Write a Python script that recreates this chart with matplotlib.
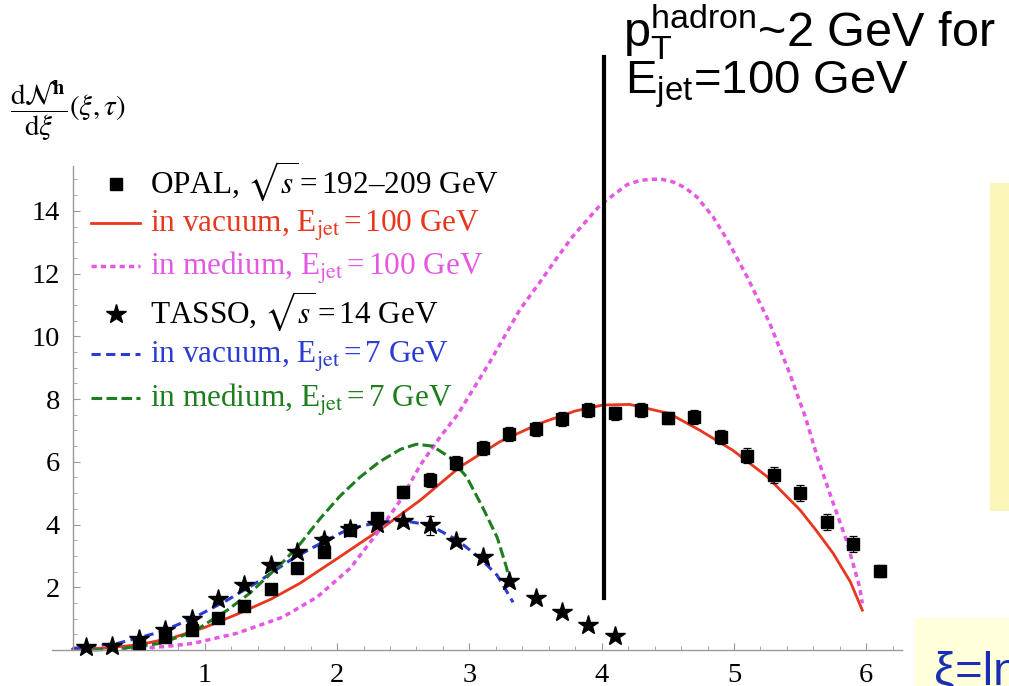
import matplotlib
matplotlib.use('Agg')
import matplotlib.pyplot as plt
from matplotlib.lines import Line2D
from matplotlib.patches import Rectangle
from matplotlib.ticker import FixedLocator, MultipleLocator

# ---------------- data ----------------
opal_x = [0.5, 0.7, 0.9, 1.1, 1.3, 1.5, 1.7, 1.9, 2.1, 2.3, 2.5, 2.7, 2.9, 3.1, 3.3,
          3.5, 3.7, 3.9, 4.1, 4.3, 4.5, 4.7, 4.9, 5.1, 5.3, 5.5, 5.7, 5.9, 6.1]
opal_y = [0.21, 0.42, 0.63, 1.02, 1.41, 1.95, 2.6, 3.14, 3.81, 4.2, 5.04, 5.42, 5.96, 6.44, 6.88,
          7.05, 7.36, 7.65, 7.54, 7.65, 7.4, 7.44, 6.8, 6.2, 5.57, 5.0, 4.07, 3.37, 2.52]
opal_err = [0.05, 0.05, 0.06, 0.08, 0.1, 0.1, 0.12, 0.15, 0.15, 0.18, 0.2, 0.22, 0.22, 0.22, 0.22,
            0.22, 0.22, 0.22, 0.22, 0.22, 0.2, 0.22, 0.22, 0.25, 0.25, 0.25, 0.25, 0.25, 0.2]

tasso_x = [0.1, 0.3, 0.5, 0.7, 0.9, 1.1, 1.3, 1.5, 1.7, 1.9, 2.1, 2.3, 2.5, 2.7, 2.9,
           3.1, 3.3, 3.5, 3.7, 3.9, 4.1]
tasso_y = [0.1, 0.13, 0.34, 0.64, 0.99, 1.64, 2.06, 2.72, 3.11, 3.52, 3.85, 4.03, 4.1, 3.97, 3.46,
           2.98, 2.21, 1.67, 1.22, 0.8, 0.45]
tasso_err = [0.02, 0.02, 0.03, 0.04, 0.05, 0.06, 0.06, 0.08, 0.08, 0.1, 0.1, 0.1, 0.12, 0.3, 0.1,
             0.08, 0.08, 0.06, 0.05, 0.04, 0.03]

vac100_x = [0.0, 0.25, 0.5, 0.75, 1.0, 1.25, 1.5, 1.72, 2.02, 2.32, 2.63, 2.93, 3.23, 3.53,
            3.8, 4.01, 4.21, 4.51, 4.74, 4.99, 5.25, 5.5, 5.62, 5.75, 5.88, 5.97]
vac100_y = [0.02, 0.06, 0.17, 0.38, 0.72, 1.15, 1.62, 2.13, 2.97, 3.82, 4.78, 5.84, 6.64, 7.22,
            7.62, 7.81, 7.83, 7.54, 7.01, 6.37, 5.53, 4.46, 3.82, 3.08, 2.17, 1.27]

med100_x = [0.3, 0.49, 0.7, 0.91, 1.24, 1.59, 1.85, 2.1, 2.32, 2.48, 2.63, 2.78, 2.91, 3.15,
            3.38, 3.53, 3.66, 3.78, 3.99, 4.19, 4.29, 4.38, 4.46, 4.54, 4.63, 4.72, 4.84, 4.95,
            5.1, 5.27, 5.42, 5.54, 5.63, 5.75, 5.85, 5.95, 5.97]
med100_y = [0.0, 0.05, 0.11, 0.21, 0.53, 1.05, 1.69, 2.61, 3.82, 4.78, 5.9, 6.8, 7.5, 9.15,
            10.84, 11.71, 12.49, 13.18, 14.19, 14.83, 14.97, 15.01, 15.0, 14.92, 14.74, 14.44,
            13.82, 13.07, 11.89, 10.42, 8.83, 7.42, 6.15, 4.68, 3.5, 2.0, 1.49]

vac7_x = [0.0, 0.34, 0.66, 0.91, 1.17, 1.42, 1.67, 1.92, 2.1, 2.32, 2.48, 2.7, 2.91, 3.08,
          3.21, 3.29, 3.33]
vac7_y = [0.05, 0.21, 0.57, 1.01, 1.59, 2.22, 2.93, 3.5, 3.88, 4.07, 4.14, 3.98, 3.5, 2.93,
          2.38, 1.81, 1.52]

med7_x = [0.15, 0.34, 0.66, 0.91, 1.17, 1.34, 1.59, 1.72, 1.87, 2.02, 2.17, 2.32, 2.48, 2.6,
          2.72, 2.85, 2.98, 3.1, 3.21, 3.28, 3.32]
med7_y = [0.0, 0.03, 0.21, 0.57, 1.27, 1.81, 2.8, 3.38, 4.18, 4.9, 5.5, 6.0, 6.4, 6.56,
          6.5, 6.15, 5.51, 4.55, 3.59, 2.64, 1.9]

x_ticks = [1, 2, 3, 4, 5, 6]
y_ticks = [2, 4, 6, 8, 10, 12, 14]
cut_xi = 4.02

legend_labels = [
    r'OPAL, $\sqrt{s}\,$=$\,$192–209 GeV',
    r'in vacuum, E$_{\rm jet}\,$=$\,$100 GeV',
    r'in medium, E$_{\rm jet}\,$=$\,$100 GeV',
    r'TASSO, $\sqrt{s}\,$=$\,$14 GeV',
    r'in vacuum, E$_{\rm jet}\,$=$\,$7 GeV',
    r'in medium, E$_{\rm jet}\,$=$\,$7 GeV',
]

# ---------------- style ----------------
plt.rcParams['font.family'] = ['Liberation Serif', 'DejaVu Serif']
plt.rcParams['mathtext.fontset'] = 'custom'
plt.rcParams['mathtext.rm'] = 'Liberation Sans'
plt.rcParams['mathtext.it'] = 'Liberation Sans:italic'
plt.rcParams['mathtext.bf'] = 'Liberation Sans:bold'

RED = '#e8361f'
MAG = '#e458e4'
BLUE = '#2a3cd2'
GREEN = '#1e7d1e'
AX_C = '#9a9a9a'

W, H = 1009, 686
fig = plt.figure(figsize=(W / 100, H / 100), dpi=100)


def fx(px):
    return px / W


def fy(py):
    return 1 - py / H


ax = fig.add_axes([fx(52), fy(650), (902 - 52) / W, (650 - 166) / H])
ax.patch.set_visible(False)
ax.set_xlim(-0.155, 6.27)
ax.set_ylim(0, 15.43)
for s in ['top', 'right']:
    ax.spines[s].set_visible(False)
ax.spines['left'].set_position(('data', 0))
for s in ['left', 'bottom']:
    ax.spines[s].set_color(AX_C)
    ax.spines[s].set_linewidth(1.0)

ax.xaxis.set_major_locator(FixedLocator(x_ticks))
ax.xaxis.set_minor_locator(MultipleLocator(0.2))
ax.yaxis.set_major_locator(FixedLocator(y_ticks))
ax.yaxis.set_minor_locator(MultipleLocator(0.5))
ax.tick_params(which='both', direction='in', color=AX_C, labelsize=20.5)
ax.tick_params(which='major', length=5, width=0.8)
ax.tick_params(which='minor', length=3, width=0.6)
ax.tick_params(axis='y', pad=9)
ax.tick_params(axis='x', pad=9)

# curves
ls_mag = (0, (1.5, 1.2))
ls_blue = (0, (3.0, 1.8))
ls_green = (0, (3.5, 1.4))
ax.plot(vac100_x, vac100_y, color=RED, lw=2.0, clip_on=False, zorder=2)
ax.plot(med100_x, med100_y, color=MAG, lw=2.5, ls=ls_mag, clip_on=False, zorder=2)
ax.plot(vac7_x, vac7_y, color=BLUE, lw=2.2, ls=ls_blue, clip_on=False, zorder=2)
ax.plot(med7_x, med7_y, color=GREEN, lw=2.2, ls=ls_green, clip_on=False, zorder=2)

# data
ax.errorbar(opal_x, opal_y, yerr=opal_err, fmt='s', color='black', ms=8,
            capsize=3, elinewidth=0.9, capthick=0.9, clip_on=False, zorder=4)
ax.errorbar(tasso_x, tasso_y, yerr=tasso_err, fmt='*', color='black', ms=15,
            capsize=3, elinewidth=0.9, capthick=0.9, clip_on=False, zorder=4)

# vertical marker line
ax.plot([cut_xi, cut_xi], [1.67, 18.9], color='black', lw=3.0, clip_on=False, zorder=5)

# ---------------- legend (manual) ----------------
rows_y = [193, 232, 275, 323, 363, 407]
styles = [
    dict(marker='s', ms=8, color='black', ls='none'),
    dict(color=RED, lw=2.0, ls='-'),
    dict(color=MAG, lw=2.5, ls=ls_mag),
    dict(marker='*', ms=15, color='black', ls='none'),
    dict(color=BLUE, lw=2.2, ls=ls_blue),
    dict(color=GREEN, lw=2.2, ls=ls_green),
]
text_colors = ['black', RED, MAG, 'black', BLUE, GREEN]
for yb, lab, st, tc in zip(rows_y, legend_labels, styles, text_colors):
    yc = yb - 9
    if st.get('ls') == 'none':
        fig.add_artist(Line2D([fx(116)], [fy(yc)], transform=fig.transFigure, **st))
    else:
        fig.add_artist(Line2D([fx(91), fx(140)], [fy(yc), fy(yc)], transform=fig.transFigure, **st))
    fig.text(fx(150), fy(yb), lab, color=tc, fontsize=22.5, va='baseline', ha='left',
             math_fontfamily='stix')

# y label
fig.text(fx(10), fy(111), r'$\dfrac{\mathrm{d}\mathcal{N}^{\mathbf{h}}}{\mathrm{d}\xi}(\xi,\tau)$',
         fontsize=21, va='center', ha='left', math_fontfamily='stix')

# ---------------- annotation ----------------
fig.text(fx(623), fy(47), r'p$_{\mathrm{T}}^{\mathrm{hadron}}$~2 GeV for', fontsize=35,
         family='Liberation Sans', va='baseline', ha='left')
fig.text(fx(625), fy(94), r'E$_{\mathrm{jet}}$=100 GeV', fontsize=34,
         family='Liberation Sans', va='baseline', ha='left')

# yellow boxes at the right
fig.add_artist(Rectangle((fx(990), fy(511)), 1 - fx(990), (511 - 183) / H,
                         transform=fig.transFigure, facecolor='#fbf5b9', edgecolor='none', zorder=0))
fig.add_artist(Rectangle((fx(915), 0), 1 - fx(915), (686 - 618) / H,
                         transform=fig.transFigure, facecolor='#ffffdc', edgecolor='none', zorder=0))
fig.text(fx(934), fy(684), 'ξ=ln', color='#1a2eb5', fontsize=34,
         family='Liberation Sans', va='baseline', ha='left')

fig.savefig('out.png', dpi=100)
